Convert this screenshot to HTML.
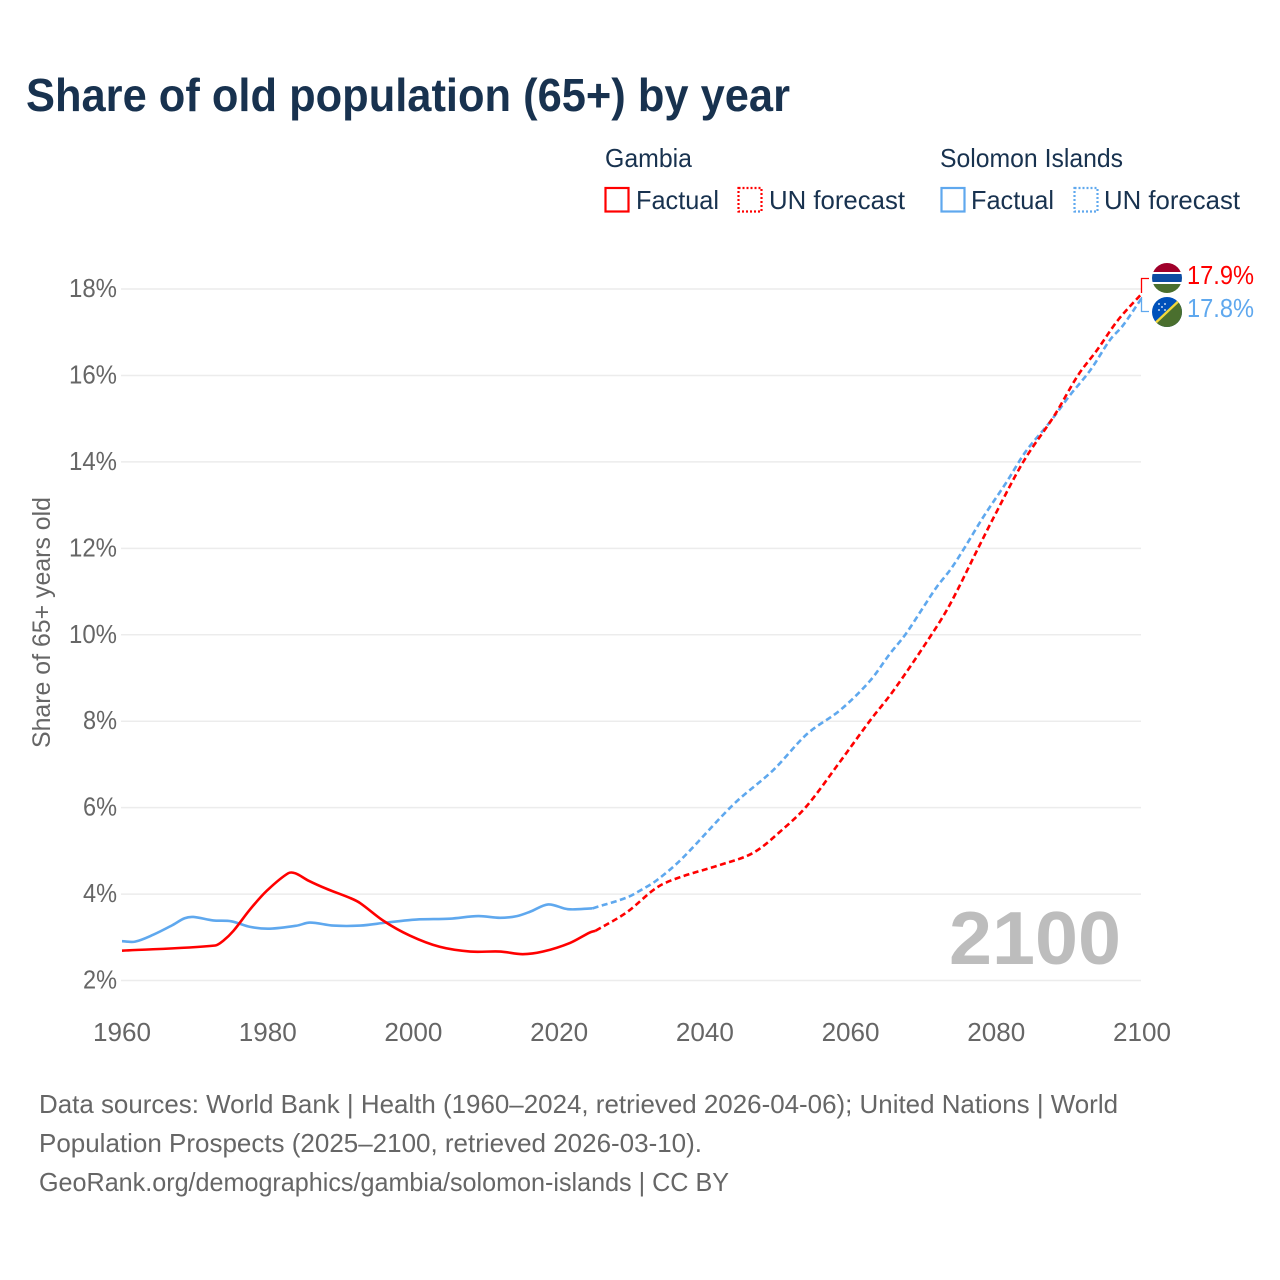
<!DOCTYPE html>
<html lang="en">
<head>
<meta charset="utf-8">
<title>Share of old population (65+) by year</title>
<style>
html,body{margin:0;padding:0;background:#fff;}
svg{display:block;font-family:"Liberation Sans",sans-serif;}
</style>
</head>
<body>
<svg id="chart" xmlns="http://www.w3.org/2000/svg" width="1280" height="1280" viewBox="0 0 1280 1280">
  <rect width="1280" height="1280" fill="#fff"/>
  <text x="26" y="111" font-size="46" font-weight="700" fill="#18324f" textLength="764" lengthAdjust="spacingAndGlyphs">Share of old population (65+) by year</text>

  <g font-size="26" fill="#18324f">
    <text x="605" y="167" textLength="87" lengthAdjust="spacingAndGlyphs">Gambia</text>
    <rect x="605.5" y="188" width="23" height="23.5" fill="none" stroke="#ff0000" stroke-width="2.2"/>
    <text x="636" y="209" textLength="83" lengthAdjust="spacingAndGlyphs">Factual</text>
    <rect x="738.5" y="188" width="23" height="23.5" fill="none" stroke="#ff0000" stroke-width="2.2" stroke-dasharray="2 2"/>
    <text x="769" y="209" textLength="136" lengthAdjust="spacingAndGlyphs">UN forecast</text>
    <text x="940" y="167" textLength="183" lengthAdjust="spacingAndGlyphs">Solomon Islands</text>
    <rect x="941.5" y="188" width="23" height="23.5" fill="none" stroke="#5fa8ee" stroke-width="2.2"/>
    <text x="971" y="209" textLength="83" lengthAdjust="spacingAndGlyphs">Factual</text>
    <rect x="1074.5" y="188" width="23" height="23.5" fill="none" stroke="#5fa8ee" stroke-width="2.2" stroke-dasharray="2 2"/>
    <text x="1104" y="209" textLength="136" lengthAdjust="spacingAndGlyphs">UN forecast</text>
  </g>

  <text transform="translate(50,748) rotate(-90)" font-size="25" fill="#666" textLength="251" lengthAdjust="spacingAndGlyphs">Share of 65+ years old</text>

  <g id="grid"></g>
  <g id="yticks" font-size="26" fill="#666" text-anchor="end"></g>
  <g id="xticks" font-size="26" fill="#666" text-anchor="middle"></g>

  <text x="949" y="964" font-size="75" font-weight="700" fill="#bdbdbd" textLength="172" lengthAdjust="spacingAndGlyphs">2100</text>

  <g id="series"></g>

  <g fill="none" stroke-width="1.3">
    <path d="M1141.5 293V278.5H1149" stroke="#ff0000"/>
    <path d="M1141.5 297V311.5H1149" stroke="#5fa8ee"/>
  </g>

  <defs>
    <clipPath id="clip-gm"><circle cx="1167" cy="278" r="15"/></clipPath>
    <clipPath id="clip-sb"><circle cx="1167" cy="312" r="15"/></clipPath>
  </defs>
  <g clip-path="url(#clip-gm)">
    <rect x="1150" y="262" width="34" height="32" fill="#fff"/>
    <rect x="1150" y="262" width="34" height="10" fill="#a0002a"/>
    <rect x="1150" y="274" width="34" height="8" fill="#0c4ca3"/>
    <rect x="1150" y="284" width="34" height="10" fill="#4a6f2e"/>
  </g>
  <g clip-path="url(#clip-sb)">
    <rect x="1150" y="296" width="34" height="32" fill="#0051ba"/>
    <path d="M1150 328H1184V296Z" fill="#4a6f2e"/>
    <path d="M1150 328L1184 296" stroke="#f2d83c" stroke-width="2.4"/>
    <g fill="#fff">
      <circle cx="1159" cy="304" r="0.9"/><circle cx="1165" cy="304" r="0.9"/>
      <circle cx="1162" cy="307" r="0.9"/><circle cx="1159" cy="310" r="0.9"/><circle cx="1165" cy="310" r="0.9"/>
    </g>
  </g>
  <text id="end-gm" x="1187" y="284" font-size="26" fill="#ff0000" textLength="67" lengthAdjust="spacingAndGlyphs"></text>
  <text id="end-sb" x="1187" y="317" font-size="26" fill="#5fa8ee" textLength="67" lengthAdjust="spacingAndGlyphs"></text>

  <g font-size="26" fill="#666">
    <text x="39" y="1113" textLength="1079" lengthAdjust="spacingAndGlyphs">Data sources: World Bank | Health (1960–2024, retrieved 2026-04-06); United Nations | World</text>
    <text x="39" y="1152" textLength="663" lengthAdjust="spacingAndGlyphs">Population Prospects (2025–2100, retrieved 2026-03-10).</text>
    <text x="39" y="1191" textLength="690" lengthAdjust="spacingAndGlyphs">GeoRank.org/demographics/gambia/solomon-islands | CC BY</text>
  </g>
</svg>
<script>
const yTickValues = [2, 4, 6, 8, 10, 12, 14, 16, 18];
const xTickValues = [1960, 1980, 2000, 2020, 2040, 2060, 2080, 2100];

const gambiaFactualYears = [1960,1972.8,1973.9,1975.3,1977.6,1979.9,1982.8,1983.8,1985.6,1988.1,1991.3,1992.7,1995.9,1999.5,2003.6,2007.8,2011.9,2015,2017.8,2021.5,2024.2,2025];
const gambiaFactualValues = [2.69,2.81,2.92,3.15,3.65,4.08,4.48,4.48,4.31,4.12,3.91,3.79,3.38,3.04,2.78,2.67,2.67,2.61,2.67,2.87,3.11,3.15];
const gambiaForecastYears = [2025,2029.3,2033.4,2036.6,2042,2046.7,2050.7,2054,2058.5,2062.7,2065.9,2071.1,2073.7,2077.5,2079.6,2083.7,2088,2091.2,2093.8,2096.7,2100];
const gambiaForecastValues = [3.15,3.58,4.15,4.39,4.67,4.96,5.5,6.04,7.05,8.02,8.71,10,10.72,12,12.7,14,15.08,16,16.58,17.28,17.9];

const solomonFactualYears = [1960,1961.8,1964.3,1966.8,1968.6,1969.8,1972.5,1975,1977.6,1980.3,1984,1985.8,1989,1992.7,1996.3,2000.4,2005,2008.9,2011.9,2014.2,2016,2018.5,2021.2,2024.6];
const solomonFactualValues = [2.91,2.9,3.06,3.27,3.44,3.47,3.39,3.37,3.24,3.2,3.27,3.34,3.27,3.27,3.34,3.41,3.43,3.49,3.45,3.49,3.59,3.76,3.65,3.67];
const solomonForecastYears = [2024.6,2029.3,2031.1,2033.4,2036.8,2043.9,2049.4,2054,2058.6,2062.7,2065.4,2067.5,2070,2071.8,2073.8,2075.6,2078.2,2081.4,2084,2087.4,2090.1,2092.9,2095.6,2097.4,2100];
const solomonForecastValues = [3.67,3.92,4.08,4.32,4.81,6.07,6.87,7.7,8.26,8.94,9.56,10,10.64,11.1,11.53,12,12.72,13.53,14.23,14.93,15.54,16.12,16.82,17.16,17.8];

const gambiaEndLabel = "17.9%";
const solomonEndLabel = "17.8%";

const NS = "http://www.w3.org/2000/svg";
function xScale(year) { return 122 + (year - 1960) * (1142 - 122) / 140; }
function yScale(value) { return 980.5 - (value - 2) * (980.5 - 289) / 16; }

function smoothPath(years, values) {
  const pts = years.map((y, i) => [xScale(y), yScale(values[i])]);
  let d = "M" + pts[0][0].toFixed(2) + " " + pts[0][1].toFixed(2);
  for (let i = 0; i < pts.length - 1; i++) {
    const p1 = pts[i], p2 = pts[i + 1];
    const p0 = pts[Math.max(i - 1, 0)], p3 = pts[Math.min(i + 2, pts.length - 1)];
    const seg = p2[0] - p1[0];
    const m1 = (p2[1] - p0[1]) / (p2[0] - p0[0]);
    const m2 = (p3[1] - p1[1]) / (p3[0] - p1[0]);
    d += "C" + (p1[0] + seg / 3).toFixed(2) + " " + (p1[1] + m1 * seg / 3).toFixed(2) + " " +
         (p2[0] - seg / 3).toFixed(2) + " " + (p2[1] - m2 * seg / 3).toFixed(2) + " " +
         p2[0].toFixed(2) + " " + p2[1].toFixed(2);
  }
  return d;
}

const grid = document.getElementById("grid");
const yticks = document.getElementById("yticks");
yTickValues.forEach(function (v) {
  const line = document.createElementNS(NS, "line");
  
  
  line.setAttribute("x1", 121);
  line.setAttribute("x2", 1141);
  line.setAttribute("y1", yScale(v));
  line.setAttribute("y2", yScale(v));
  line.setAttribute("stroke", "#ececec");
  line.setAttribute("stroke-width", "1.5");
  grid.appendChild(line);
  const t = document.createElementNS(NS, "text");
  
  
  t.setAttribute("x", 117);
  t.setAttribute("y", yScale(v) + 8);
  t.setAttribute("textLength", v >= 10 ? 48 : 34);
  t.setAttribute("lengthAdjust", "spacingAndGlyphs");
  t.textContent = v + "%";
  yticks.appendChild(t);
});

const xticks = document.getElementById("xticks");
xTickValues.forEach(function (v) {
  const t = document.createElementNS(NS, "text");
  
  
  t.setAttribute("x", xScale(v));
  t.setAttribute("y", 1041);
  t.setAttribute("textLength", 58);
  t.setAttribute("lengthAdjust", "spacingAndGlyphs");
  t.textContent = v;
  xticks.appendChild(t);
});

const series = document.getElementById("series");
function drawLine(years, values, color, dashed, name) {
  const p = document.createElementNS(NS, "path");
  
  
  p.setAttribute("d", smoothPath(years, values));
  p.setAttribute("fill", "none");
  p.setAttribute("stroke", color);
  p.setAttribute("stroke-width", "2.6");
  p.setAttribute("stroke-linejoin", "round");
  if (dashed) p.setAttribute("stroke-dasharray", "6 3.5");
  series.appendChild(p);
}
drawLine(solomonFactualYears, solomonFactualValues, "#5fa8ee", false, "line-solomon-factual");
drawLine(solomonForecastYears, solomonForecastValues, "#5fa8ee", true, "line-solomon-forecast");
drawLine(gambiaFactualYears, gambiaFactualValues, "#ff0000", false, "line-gambia-factual");
drawLine(gambiaForecastYears, gambiaForecastValues, "#ff0000", true, "line-gambia-forecast");

document.getElementById("end-gm").textContent = gambiaEndLabel;
document.getElementById("end-sb").textContent = solomonEndLabel;
</script>
</body>
</html>
